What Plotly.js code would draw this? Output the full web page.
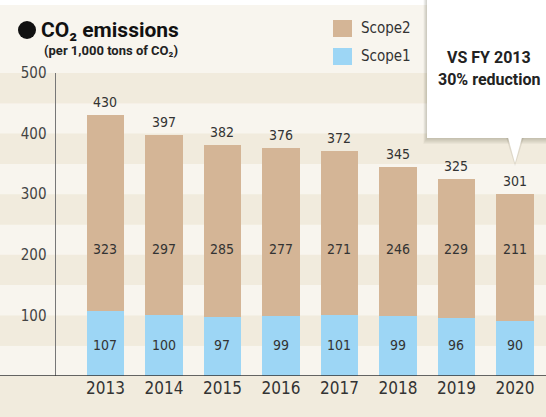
<!DOCTYPE html>
<html><head><meta charset="utf-8">
<script src="https://cdn.plot.ly/plotly-3.0.1.min.js"></script>
<style>html,body{margin:0;padding:0;background:#ffffff}#chart{width:546px;height:417px}</style>
</head><body><div id="chart"></div>
<script>
var years = ['2013','2014','2015','2016','2017','2018','2019','2020'];
var scope1 = [107,100,97,99,101,99,96,90];
var scope2 = [323,297,285,277,271,246,229,211];
var totals = [430,397,382,376,372,345,325,301];
var seriesNames = ['Scope2','Scope1'];
var seriesColors = ['#d4b596','#9dd6f5'];
var yTicks = [100,200,300,400,500];

var FONT = '"DejaVu Sans Condensed", "DejaVu Sans", sans-serif';
var BFONT = 'Roboto, "DejaVu Sans Condensed", sans-serif';
var W = 546, H = 417, L = 56, T = 73, B = 41, R = 0;
var PW = W - L - R, PH = H - T - B;
function px(x){ return (x - L) / PW; }
function py(y){ return (H - B - y) / PH; }

var traces = [
  {type:'bar', name:seriesNames[1], x:years, y:scope1, marker:{color:seriesColors[1]}, width:0.645, hoverinfo:'none'},
  {type:'bar', name:seriesNames[0], x:years, y:scope2, marker:{color:seriesColors[0]}, width:0.645, hoverinfo:'none'}
];

var shapes = [];
// top light area above plot
shapes.push({type:'rect', layer:'below', xref:'paper', yref:'paper', x0:-0.2, x1:1.1, y0:1, y1:py(5), line:{width:0}, fillcolor:'#f8f5ee'});
shapes.push({type:'rect', layer:'below', xref:'paper', yref:'paper', x0:-0.2, x1:1.1, y0:py(5), y1:py(-5), line:{width:0}, fillcolor:'#ffffff'});
// background bands
for (var v = 0; v < 500; v += 50) {
  shapes.push({type:'rect', layer:'below', xref:'paper', yref:'y', x0:-0.2, x1:1, y0:v, y1:v+50,
    line:{width:0}, fillcolor: (v/50)%2===1 ? '#f1ebdd' : '#f8f5ee'});
}
// x axis baseline
shapes.push({type:'line', xref:'paper', yref:'y', x0:-0.2, x1:1, y0:0, y1:0, line:{color:'#333', width:1.5}});
// bullet before title
shapes.push({type:'circle', xref:'paper', yref:'paper', x0:px(18), x1:px(36), y0:py(39), y1:py(21), line:{width:0}, fillcolor:'#111'});
// legend swatches
shapes.push({type:'rect', xref:'paper', yref:'paper', x0:px(333), x1:px(352), y0:py(37), y1:py(20), line:{width:0}, fillcolor:seriesColors[0]});
shapes.push({type:'rect', xref:'paper', yref:'paper', x0:px(333), x1:px(352), y0:py(65), y1:py(48), line:{width:0}, fillcolor:seriesColors[1]});
// callout shadow + box
for (var s = 1; s <= 6; s++) {
  shapes.push({type:'rect', xref:'paper', yref:'paper', x0:px(427 - s*0.6), x1:px(560), y0:py(138 + s), y1:py(-5),
    line:{width:0}, fillcolor:'rgba(60,50,30,0.04)'});
}
shapes.push({type:'path', xref:'paper', yref:'paper',
  path:'M' + px(506) + ',' + py(137) + ' L' + px(515) + ',' + py(166) + ' L' + px(524) + ',' + py(137) + ' Z',
  fillcolor:'rgba(60,50,30,0.10)', line:{width:0}});
shapes.push({type:'rect', xref:'paper', yref:'paper', x0:px(427), x1:px(560), y0:py(138), y1:py(-5), line:{width:0}, fillcolor:'#ffffff'});
shapes.push({type:'path', xref:'paper', yref:'paper',
  path:'M' + px(508) + ',' + py(137.5) + ' L' + px(515) + ',' + py(163) + ' L' + px(522) + ',' + py(137.5) + ' Z',
  fillcolor:'#ffffff', line:{width:0}});

var ann = [];
for (var i = 0; i < years.length; i++) {
  ann.push({x:i, y:totals[i], xref:'x', yref:'y', text:String(totals[i]), showarrow:false, yanchor:'bottom', yshift:3,
    font:{family:FONT, size:14, color:'#333'}});
  ann.push({x:i, y:210, xref:'x', yref:'y', text:String(scope2[i]), showarrow:false, yanchor:'middle',
    font:{family:FONT, size:14, color:'#333'}});
  ann.push({x:i, y:51, xref:'x', yref:'y', text:String(scope1[i]), showarrow:false, yanchor:'middle',
    font:{family:FONT, size:14, color:'#333'}});
}
// legend labels
ann.push({xref:'paper', yref:'paper', x:px(359), y:py(28.5), text:seriesNames[0], showarrow:false, xanchor:'left', yanchor:'middle', font:{family:FONT, size:15, color:'#333'}});
ann.push({xref:'paper', yref:'paper', x:px(359), y:py(56.5), text:seriesNames[1], showarrow:false, xanchor:'left', yanchor:'middle', font:{family:FONT, size:15, color:'#333'}});
// subtitle
ann.push({xref:'paper', yref:'paper', x:px(42), y:py(50), text:'<b>(per 1,000 tons of CO₂)</b>', showarrow:false, xanchor:'left', yanchor:'middle', font:{family:BFONT, size:13, color:'#222'}});
// callout text
ann.push({xref:'paper', yref:'paper', x:px(489), y:py(58), text:'<b>VS FY 2013</b>', showarrow:false, xanchor:'center', yanchor:'middle', font:{family:BFONT, size:16, color:'#222'}});
ann.push({xref:'paper', yref:'paper', x:px(436), y:py(80), text:'<b>30% reduction</b>', showarrow:false, xanchor:'left', yanchor:'middle', font:{family:BFONT, size:16, color:'#222'}});

var layout = {
  width:W, height:H, margin:{l:L, r:R, t:T, b:B},
  paper_bgcolor:'#f1ebdd', plot_bgcolor:'rgba(0,0,0,0)',
  barmode:'stack', showlegend:false,
  title:{text:'<b>CO₂ emissions</b>', xref:'container', yref:'container', x:41/W, xanchor:'left', y:1 - 30/H, yanchor:'middle',
    font:{family:BFONT, size:21, color:'#111'}},
  xaxis:{type:'category', range:[-0.846, 7.53], showgrid:false, zeroline:false, showline:false, ticks:'',
    tickfont:{family:FONT, size:17, color:'#333'}, fixedrange:true},
  yaxis:{range:[0,500], tickvals:yTicks, ticktext:yTicks.map(String), showgrid:false, zeroline:false,
    showline:true, linecolor:'#777', linewidth:1.5, ticks:'', ticklabelstandoff:5,
    tickfont:{family:FONT, size:15, color:'#444'}, fixedrange:true},
  shapes:shapes, annotations:ann
};

Plotly.newPlot('chart', traces, layout, {displayModeBar:false, staticPlot:true});
</script></body></html>
